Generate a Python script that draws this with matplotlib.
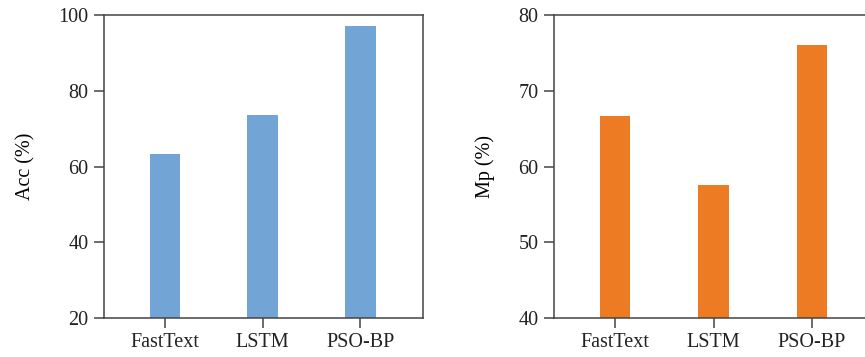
import numpy as np
import matplotlib.pyplot as plt

# данные
models = ['FastText', 'LSTM', 'PSO-BP']
acc = [63.3, 73.6, 97.1]
mp = [66.7, 57.5, 76.0]

plt.rcParams['font.family'] = ['Liberation Serif', 'DejaVu Serif']
plt.rcParams['font.size'] = 14.5

W, H = 865, 357
fig = plt.figure(figsize=(W / 100, H / 100), dpi=100)

def px_axes(x0, x1, y0, y1):
    """Оси по пиксельным координатам (верх-низ)"""
    return fig.add_axes([x0 / W, 1 - y1 / H, (x1 - x0) / W, (y1 - y0) / H])

def style(ax, ylim, yticks, ylabel, pad):
    ax.set_ylim(*ylim)
    ax.set_yticks(yticks)
    ax.set_xlim(-0.62, 2.64)
    ax.set_xticks(range(len(models)))
    ax.set_xticklabels(models)
    ax.set_ylabel(ylabel, labelpad=pad)
    for s in ax.spines.values():
        s.set_color('#444444')
        s.set_linewidth(1.1)
    ax.tick_params(direction='out', length=7, width=1.1, color='#444444',
                   labelcolor='#222222', pad=4)

x = np.arange(len(models))

ax1 = px_axes(104, 423, 15, 318)
ax1.bar(x, acc, width=0.31, color='#72A5D6')
style(ax1, (20, 100), [20, 40, 60, 80, 100], 'Acc (%)', 17)

ax2 = px_axes(554, 875, 15, 318)
ax2.bar(x, mp, width=0.31, color='#ED7B23')
style(ax2, (40, 80), [40, 50, 60, 70, 80], 'Mp (%)', 17)

fig.savefig('out.png', dpi=100)
